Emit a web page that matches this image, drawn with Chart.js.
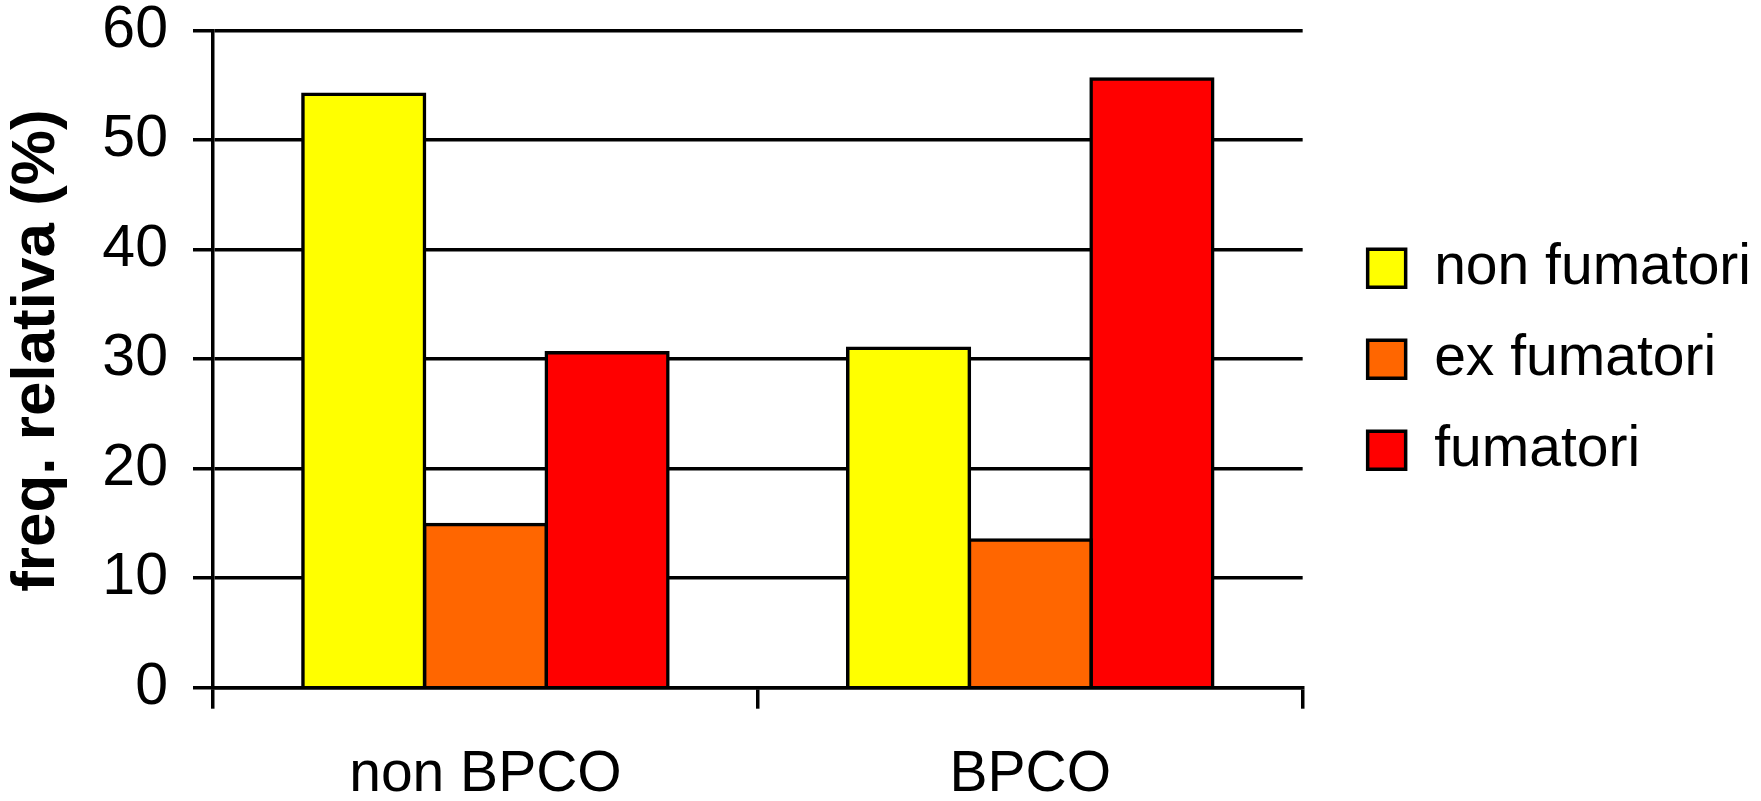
<!DOCTYPE html>
<html>
<head>
<meta charset="utf-8">
<style>
  html, body { margin: 0; padding: 0; background: #ffffff; }
  #wrap { position: relative; width: 1761px; height: 801px; }
</style>
<script src="https://cdn.jsdelivr.net/npm/chart.js@4/dist/chart.umd.min.js"></script>
</head>
<body>
<div id="wrap"><canvas id="chart"></canvas></div>
<script>
// Categories and series (relative frequency, %)
const categories = ['non BPCO', 'BPCO'];
const seriesLabels = ['non fumatori', 'ex fumatori', 'fumatori'];
const nonFumatori = [54.2, 31.0];
const exFumatori = [14.9, 13.5];
const fumatori = [30.6, 55.6];
const yTicks = [0, 10, 20, 30, 40, 50, 60];

const FONT = '"Liberation Sans", Arial, Helvetica, sans-serif';
const colors = ['#FFFF00', '#FF6600', '#FF0000'];
const values = [nonFumatori, exFumatori, fumatori];
const LINE = 3.5;

// bar outlines are centred on the bar edges, so neighbouring bars share one line
const datasets = seriesLabels.map((label, i) => ({
  label,
  data: values[i],
  backgroundColor: colors[i],
  borderColor: '#000000',
  borderWidth: LINE,
  inflateAmount: LINE / 2,
  borderSkipped: 'start',
  categoryPercentage: 0.67,
  barPercentage: 1.0,
  yAxisID: 'y'
}));

new Chart(document.getElementById('chart'), {
  type: 'bar',
  data: { labels: categories, datasets },
  options: {
    responsive: true,
    maintainAspectRatio: false,
    animation: false,
    layout: { padding: { top: 30.7, left: 0, right: 0, bottom: 0 } },
    plugins: {
      tooltip: { enabled: false },
      legend: {
        position: 'right',
        fullSize: false,
        labels: {
          color: '#000000',
          font: { family: FONT, size: 57 },
          boxWidth: 38,
          boxHeight: 38,
          padding: 34
        }
      }
    },
    scales: {
      x: {
        type: 'category',
        offset: true,
        grid: {
          display: true,
          offset: true,
          drawOnChartArea: false,
          drawTicks: true,
          tickLength: 21,
          lineWidth: LINE,
          color: '#000000'
        },
        border: { display: true, width: LINE, color: '#000000' },
        ticks: {
          color: '#000000',
          font: { family: FONT, size: 57 },
          padding: 32,
          maxRotation: 0
        },
        afterFit: (scale) => { scale.height = 113.3; }
      },
      y: {
        type: 'linear',
        position: 'left',
        min: yTicks[0],
        max: yTicks[yTicks.length - 1],
        afterBuildTicks: (scale) => { scale.ticks = yTicks.map(v => ({ value: v })); },
        grid: {
          display: true,
          drawTicks: true,
          tickLength: 20,
          lineWidth: LINE,
          color: '#000000'
        },
        border: { display: true, width: LINE, color: '#000000' },
        ticks: {
          color: '#000000',
          font: { family: FONT, size: 59, lineHeight: 1 },
          padding: 25
        },
        title: {
          display: true,
          text: ' freq. relativa (%)',
          color: '#000000',
          font: { family: FONT, size: 62, weight: 'bold' },
          padding: { top: 0, bottom: 0 }
        },
        afterFit: (scale) => {
          scale.width = 213;
          scale.paddingTop = 0;
          scale.paddingBottom = 0;
        }
      },
      // empty space between the plot and the legend
      gap: {
        type: 'linear',
        position: 'right',
        display: false,
        afterFit: (scale) => { scale.width = 31; }
      }
    }
  }
});
</script>
</body>
</html>
